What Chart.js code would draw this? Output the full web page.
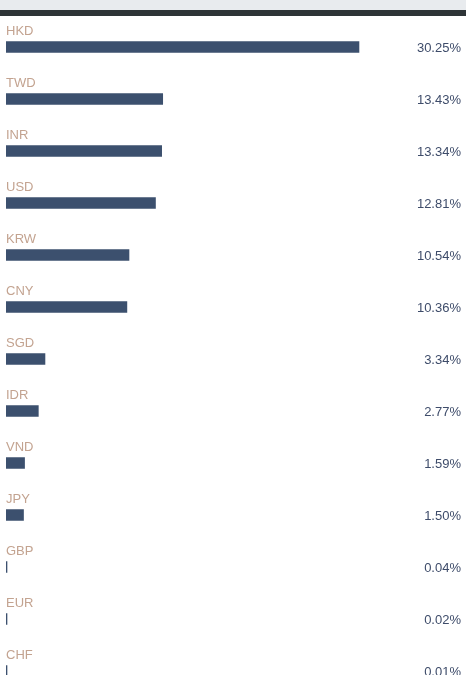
<!DOCTYPE html>
<html>
<head>
<meta charset="utf-8">
<script src="https://cdn.jsdelivr.net/npm/chart.js@4/dist/chart.umd.min.js"></script>
<style>
  html, body { margin: 0; padding: 0; background: #ffffff; overflow: hidden; width: 466px; height: 675px; }
  #top1 { position: absolute; left: 0; top: 0; width: 466px; height: 10px; background: #e8ebee; }
  #top2 { position: absolute; left: 0; top: 10px; width: 466px; height: 6px; background: #2e3437; }
  #wrap { position: absolute; left: 0; top: 21px; width: 466px; height: 676px; }
</style>
</head>
<body>
<div id="top1"></div>
<div id="top2"></div>
<div id="wrap"><canvas id="c" width="466" height="676"></canvas></div>
<script>
const currencies = ["HKD", "TWD", "INR", "USD", "KRW", "CNY", "SGD", "IDR", "VND", "JPY", "GBP", "EUR", "CHF"];
const shares = [30.25, 13.43, 13.34, 12.81, 10.54, 10.36, 3.34, 2.77, 1.59, 1.50, 0.04, 0.02, 0.01];

const labelPlugin = {
  id: 'rowLabels',
  afterDatasetsDraw(chart) {
    const ctx = chart.ctx;
    const meta = chart.getDatasetMeta(0);
    ctx.save();
    meta.data.forEach((bar, i) => {
      const y = bar.y;
      ctx.font = '13px "Liberation Sans", Arial, sans-serif';
      ctx.textBaseline = 'alphabetic';
      ctx.textAlign = 'left';
      ctx.fillStyle = '#c3a390';
      ctx.fillText(currencies[i], 6, y - 12.5);
      ctx.textAlign = 'right';
      ctx.fillStyle = '#3e4c6a';
      ctx.fillText(shares[i].toFixed(2) + '%', 461, y + 4.5);
    });
    ctx.restore();
  }
};

new Chart(document.getElementById('c'), {
  type: 'bar',
  data: {
    labels: currencies,
    datasets: [{
      data: shares,
      backgroundColor: '#3c506e',
      borderWidth: 0,
      barThickness: 11,
      minBarLength: 1
    }]
  },
  options: {
    indexAxis: 'y',
    responsive: false,
    devicePixelRatio: 1,
    animation: false,
    layout: { padding: { left: 6, right: 51.6, top: 0, bottom: 0 } },
    plugins: { legend: { display: false }, tooltip: { enabled: false } },
    scales: {
      x: { display: false, min: 0, max: 35 },
      y: { display: false }
    }
  },
  plugins: [labelPlugin]
});
</script>
</body>
</html>
